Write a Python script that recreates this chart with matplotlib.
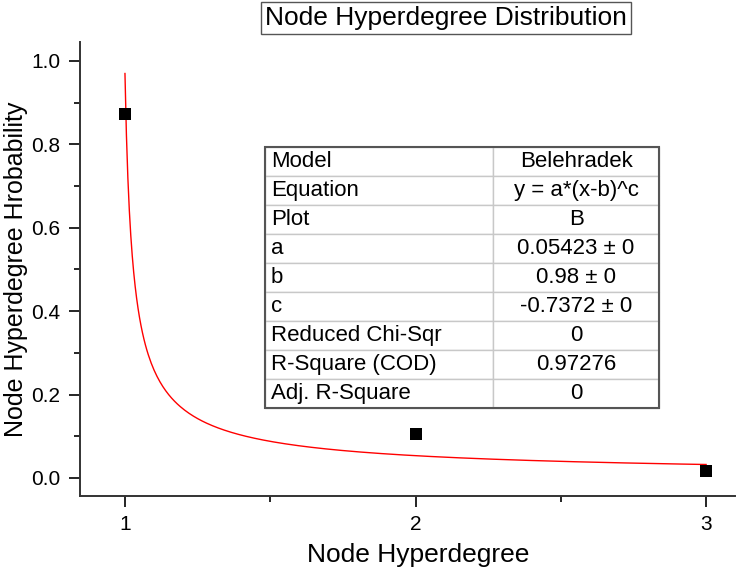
"""
Node hyperdegree distribution with Belehradek fit
"""

import numpy as np
import matplotlib.pyplot as plt
from matplotlib.patches import Rectangle
from matplotlib.ticker import MultipleLocator

plt.rcParams['font.family'] = ['Liberation Sans', 'DejaVu Sans']

# points mesurés
hyperdegree = [1, 2, 3]
probability = [0.873, 0.105, 0.017]

# paramètres du fit y = a*(x-b)^c
fit_a = 0.05423
fit_b = 0.98
fit_c = -0.7372
fit_x_range = [1.0, 3.0]

# tableau de résultats
table_keys = ["Model", "Equation", "Plot", "a", "b", "c",
              "Reduced Chi-Sqr", "R-Square (COD)", "Adj. R-Square"]
table_vals = ["Belehradek", "y = a*(x-b)^c", "B", "0.05423 \u00b1 0",
              "0.98 \u00b1 0", "-0.7372 \u00b1 0", "0", "0.97276", "0"]


def main():
    fig = plt.figure(figsize=(7.54, 5.70), dpi=100)
    ax = fig.add_axes([0.106, 0.130, 0.869, 0.796])

    xs = np.linspace(fit_x_range[0], fit_x_range[1], 400)
    ax.plot(xs, fit_a * (xs - fit_b) ** fit_c, color="red", lw=1.0, zorder=2)
    ax.scatter(hyperdegree, probability, marker="s", s=75, color="black",
               zorder=3, linewidths=0)

    ax.set_xlim(0.845, 3.10)
    ax.set_ylim(-0.043, 1.045)
    ax.xaxis.set_major_locator(MultipleLocator(1))
    ax.xaxis.set_minor_locator(MultipleLocator(0.5))
    ax.yaxis.set_major_locator(MultipleLocator(0.2))
    ax.yaxis.set_minor_locator(MultipleLocator(0.1))
    ax.yaxis.set_major_formatter(plt.FormatStrFormatter("%.1f"))
    ax.tick_params(which="major", length=8, width=1.2, labelsize=15,
                   direction="out", pad=6)
    ax.tick_params(which="minor", length=4, width=1.2, direction="out")

    for side in ("top", "right"):
        ax.spines[side].set_visible(False)
    for side in ("left", "bottom"):
        ax.spines[side].set_linewidth(1.4)
        ax.spines[side].set_color("#333333")

    ax.set_xlabel("Node Hyperdegree", fontsize=19)
    ax.xaxis.set_label_coords(0.516, -0.103)
    ax.set_ylabel("Node Hyperdegree Hrobability", fontsize=18)
    ax.yaxis.set_label_coords(-0.080, 0.5)

    # tableau du fit
    bbox = [0.2824, 0.194, 0.6015, 0.575]
    tbl = ax.table(cellText=[[k, v] for k, v in zip(table_keys, table_vals)],
                   colWidths=[0.579, 0.421], bbox=bbox, zorder=4)
    tbl.auto_set_font_size(False)
    for (r, c), cell in tbl.get_celld().items():
        cell.set_edgecolor("#c8c8c8")
        cell.set_linewidth(1.0)
        cell.set_facecolor("white")
        cell.get_text().set_fontsize(16)
        if c == 0:
            cell.get_text().set_ha("left")
            cell.PAD = 0.026
        else:
            cell.get_text().set_ha("center")
    # bordure extérieure plus foncée
    ax.add_patch(Rectangle((bbox[0], bbox[1]), bbox[2], bbox[3],
                           transform=ax.transAxes, fill=False,
                           ec="#555555", lw=1.5, zorder=5))

    fig.text(0.5915, 0.968, "Node Hyperdegree Distribution", fontsize=19,
             ha="center", va="center",
             bbox=dict(boxstyle="square,pad=0.16", fc="white", ec="#555555",
                       lw=1.0))

    fig.savefig("out.png", dpi=100)


if __name__ == "__main__":
    main()
